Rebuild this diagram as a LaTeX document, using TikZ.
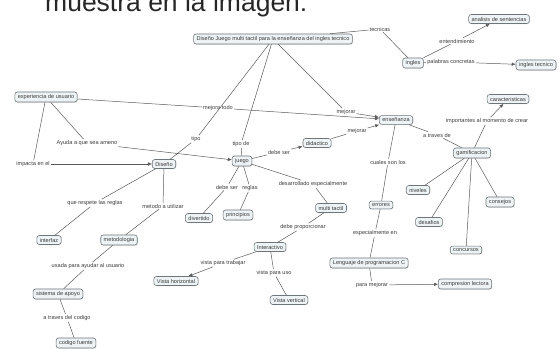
\documentclass[tikz,border=0pt]{standalone}
\usepackage{fontspec}
\setmainfont{Liberation Sans}
\usepackage{xcolor}
\usetikzlibrary{arrows.meta, positioning, shadows}
\definecolor{conceptfill}{RGB}{238, 243, 245}
\definecolor{conceptline}{RGB}{110, 118, 122}
\definecolor{linkline}{RGB}{90, 90, 90}
\definecolor{labeltext}{RGB}{60, 60, 60}

\begin{document}
\begin{tikzpicture}[
    x=1pt, y=-1pt,
    >={Latex[length=4pt, width=3.5pt]},
    concept/.style={rectangle, rounded corners=2.5pt, draw=conceptline, fill=conceptfill, line width=0.6pt,
      inner xsep=3pt, inner ysep=2.4pt, font=\fontsize{5.6}{6.5}\selectfont, text=labeltext,
      drop shadow={shadow xshift=0.6pt, shadow yshift=-0.6pt, opacity=0.25}},
    phrase/.style={inner sep=1pt, font=\fontsize{5.6}{6.5}\selectfont, text=labeltext},
    link/.style={linkline, line width=0.5pt},
    linkto/.style={linkline, line width=0.5pt, ->}
  ]
  \useasboundingbox (0,0) rectangle (559,348);
  \clip (0,0) rectangle (559,348);

  % heading cut off at the top
  \node[anchor=base west, inner sep=0pt, font=\fontsize{26.5}{30}\selectfont, text=black!85] (heading) at (45,11) {muestra en la imagen:};

  % Concepts
  \node[concept] (title) at (273, 39) {Diseño Juego multi tactil para la enseñanza del ingles tecnico};
  \node[concept] (ingles) at (413, 63) {ingles};
  \node[concept] (analisis) at (499, 19) {analisis de sentencias};
  \node[concept] (tecnico) at (536, 65) {ingles tecnico};
  \node[concept] (caract) at (508, 99) {caracteristicas};
  \node[concept] (ensenanza) at (396, 120) {enseñanza};
  \node[concept] (experiencia) at (46, 97) {experiencia de usuario};
  \node[concept] (diseno) at (164, 164) {Diseño};
  \node[concept] (juego) at (242, 161) {juego};
  \node[concept] (didactico) at (317, 143) {didactico};
  \node[concept] (gamif) at (472, 153) {gamificacion};
  \node[concept] (errores) at (381, 205) {errores};
  \node[concept] (niveles) at (418, 190) {niveles};
  \node[concept] (consejos) at (500, 202) {consejos};
  \node[concept] (desafios) at (429, 222) {desafios};
  \node[concept] (concursos) at (466, 250) {concursos};
  \node[concept] (lenguaje) at (369, 263) {Lenguaje de programacion C};
  \node[concept] (compresion) at (465, 284) {compresion lectora};
  \node[concept] (multi) at (331, 208) {multi tactil};
  \node[concept] (interactivo) at (270, 247) {Interactivo};
  \node[concept] (horizontal) at (176, 281) {Vista horizontal};
  \node[concept] (vertical) at (289, 300) {Vista vertical};
  \node[concept] (divertido) at (199, 218) {divertido};
  \node[concept] (principios) at (238, 215) {principios};
  \node[concept] (interfaz) at (49, 240) {interfaz};
  \node[concept] (metodologia) at (119, 240) {metodologia};
  \node[concept] (apoyo) at (58, 294) {sistema de apoyo};
  \node[concept] (codigo) at (76, 343) {codigo fuente};

  % Linking phrases
  \node[phrase] (tecnicas) at (380, 29) {tecnicas};
  \node[phrase] (entend) at (457, 41) {entendimiento};
  \node[phrase] (palabras) at (451, 62) {palabras concretas};
  \node[phrase] (mejorar1) at (346, 112) {mejorar};
  \node[phrase] (mejoratodo) at (218, 108) {mejora todo};
  \node[phrase] (ayuda) at (87, 143) {Ayuda a que sea ameno};
  \node[phrase] (impacta) at (33, 164) {impacta en el};
  \node[phrase] (tipo) at (196, 139) {tipo};
  \node[phrase] (tipode) at (241, 144) {tipo de};
  \node[phrase] (debeser1) at (279, 152) {debe ser};
  \node[phrase] (mejorar2) at (357, 131) {mejorar};
  \node[phrase] (atraves) at (437, 135) {a traves de};
  \node[phrase] (importantes) at (487, 121) {importantes al momento de crear};
  \node[phrase] (cuales) at (388, 162) {cuales son los};
  \node[phrase] (especial) at (375, 233) {especialmente en};
  \node[phrase] (paramejorar) at (372, 285) {para mejorar};
  \node[phrase] (desarrollado) at (313, 184) {desarrollado especialmente};
  \node[phrase] (proporcionar) at (303, 227) {debe proporcionar};
  \node[phrase] (trabajar) at (223, 263) {vista para trabajar};
  \node[phrase] (uso) at (274, 273) {vista para uso};
  \node[phrase] (debeser2) at (227, 187) {debe ser};
  \node[phrase] (reglas) at (250, 188) {reglas};
  \node[phrase] (respete) at (95, 203) {que respete las reglas};
  \node[phrase] (metodo) at (163, 206) {metodo a utilizar};
  \node[phrase] (usada) at (88, 266) {usada para ayudar al usuario};
  \node[phrase] (atravescod) at (67, 318) {a traves del codigo};

  % Links
  \draw[link] (title) -- (tecnicas);
  \draw[link] (tecnicas) -- (ingles);
  \draw[link] (ingles) -- (entend);
  \draw[linkto] (entend) -- (analisis);
  \draw[link] (ingles) -- (palabras);
  \draw[linkto] (palabras) -- (tecnico);
  \draw[link] (title) -- (mejorar1);
  \draw[linkto] (mejorar1) -- (ensenanza);
  \draw[link] (title) -- (tipo);
  \draw[link] (tipo) -- (diseno);
  \draw[link] (title) -- (tipode);
  \draw[link] (tipode) -- (juego);
  \draw[link] (experiencia) -- (mejoratodo);
  \draw[linkto] (mejoratodo) -- (ensenanza);
  \draw[link] (experiencia) -- (ayuda);
  \draw[linkto] (ayuda) -- (juego);
  \draw[link] (experiencia) -- (impacta);
  \draw[linkto] (impacta) -- (diseno);
  \draw[link] (juego) -- (debeser1);
  \draw[linkto] (debeser1) -- (didactico);
  \draw[link] (didactico) -- (mejorar2);
  \draw[linkto] (mejorar2) -- (ensenanza);
  \draw[link] (ensenanza) -- (atraves);
  \draw[link] (atraves) -- (gamif);
  \draw[link] (gamif) -- (importantes);
  \draw[linkto] (importantes) -- (caract);
  \foreach \item in {niveles, desafios, concursos, consejos} {
    \draw[link] (gamif) -- (\item);
  }
  \draw[link] (ensenanza) -- (cuales);
  \draw[link] (cuales) -- (errores);
  \draw[link] (errores) -- (especial);
  \draw[link] (especial) -- (lenguaje);
  \draw[link] (lenguaje) -- (paramejorar);
  \draw[linkto] (paramejorar) -- (compresion);
  \draw[link] (juego) -- (desarrollado);
  \draw[link] (desarrollado) -- (multi);
  \draw[link] (multi) -- (proporcionar);
  \draw[link] (proporcionar) -- (interactivo);
  \draw[link] (interactivo) -- (trabajar);
  \draw[linkto] (trabajar) -- (horizontal);
  \draw[link] (interactivo) -- (uso);
  \draw[link] (uso) -- (vertical);
  \draw[link] (juego) -- (debeser2);
  \draw[link] (debeser2) -- (divertido);
  \draw[link] (juego) -- (reglas);
  \draw[link] (reglas) -- (principios);
  \draw[link] (diseno) -- (respete);
  \draw[link] (respete) -- (interfaz);
  \draw[link] (diseno) -- (metodo);
  \draw[link] (metodo) -- (metodologia);
  \draw[link] (metodologia) -- (usada);
  \draw[link] (usada) -- (apoyo);
  \draw[link] (apoyo) -- (atravescod);
  \draw[link] (atravescod) -- (codigo);

\end{tikzpicture}
\end{document}
